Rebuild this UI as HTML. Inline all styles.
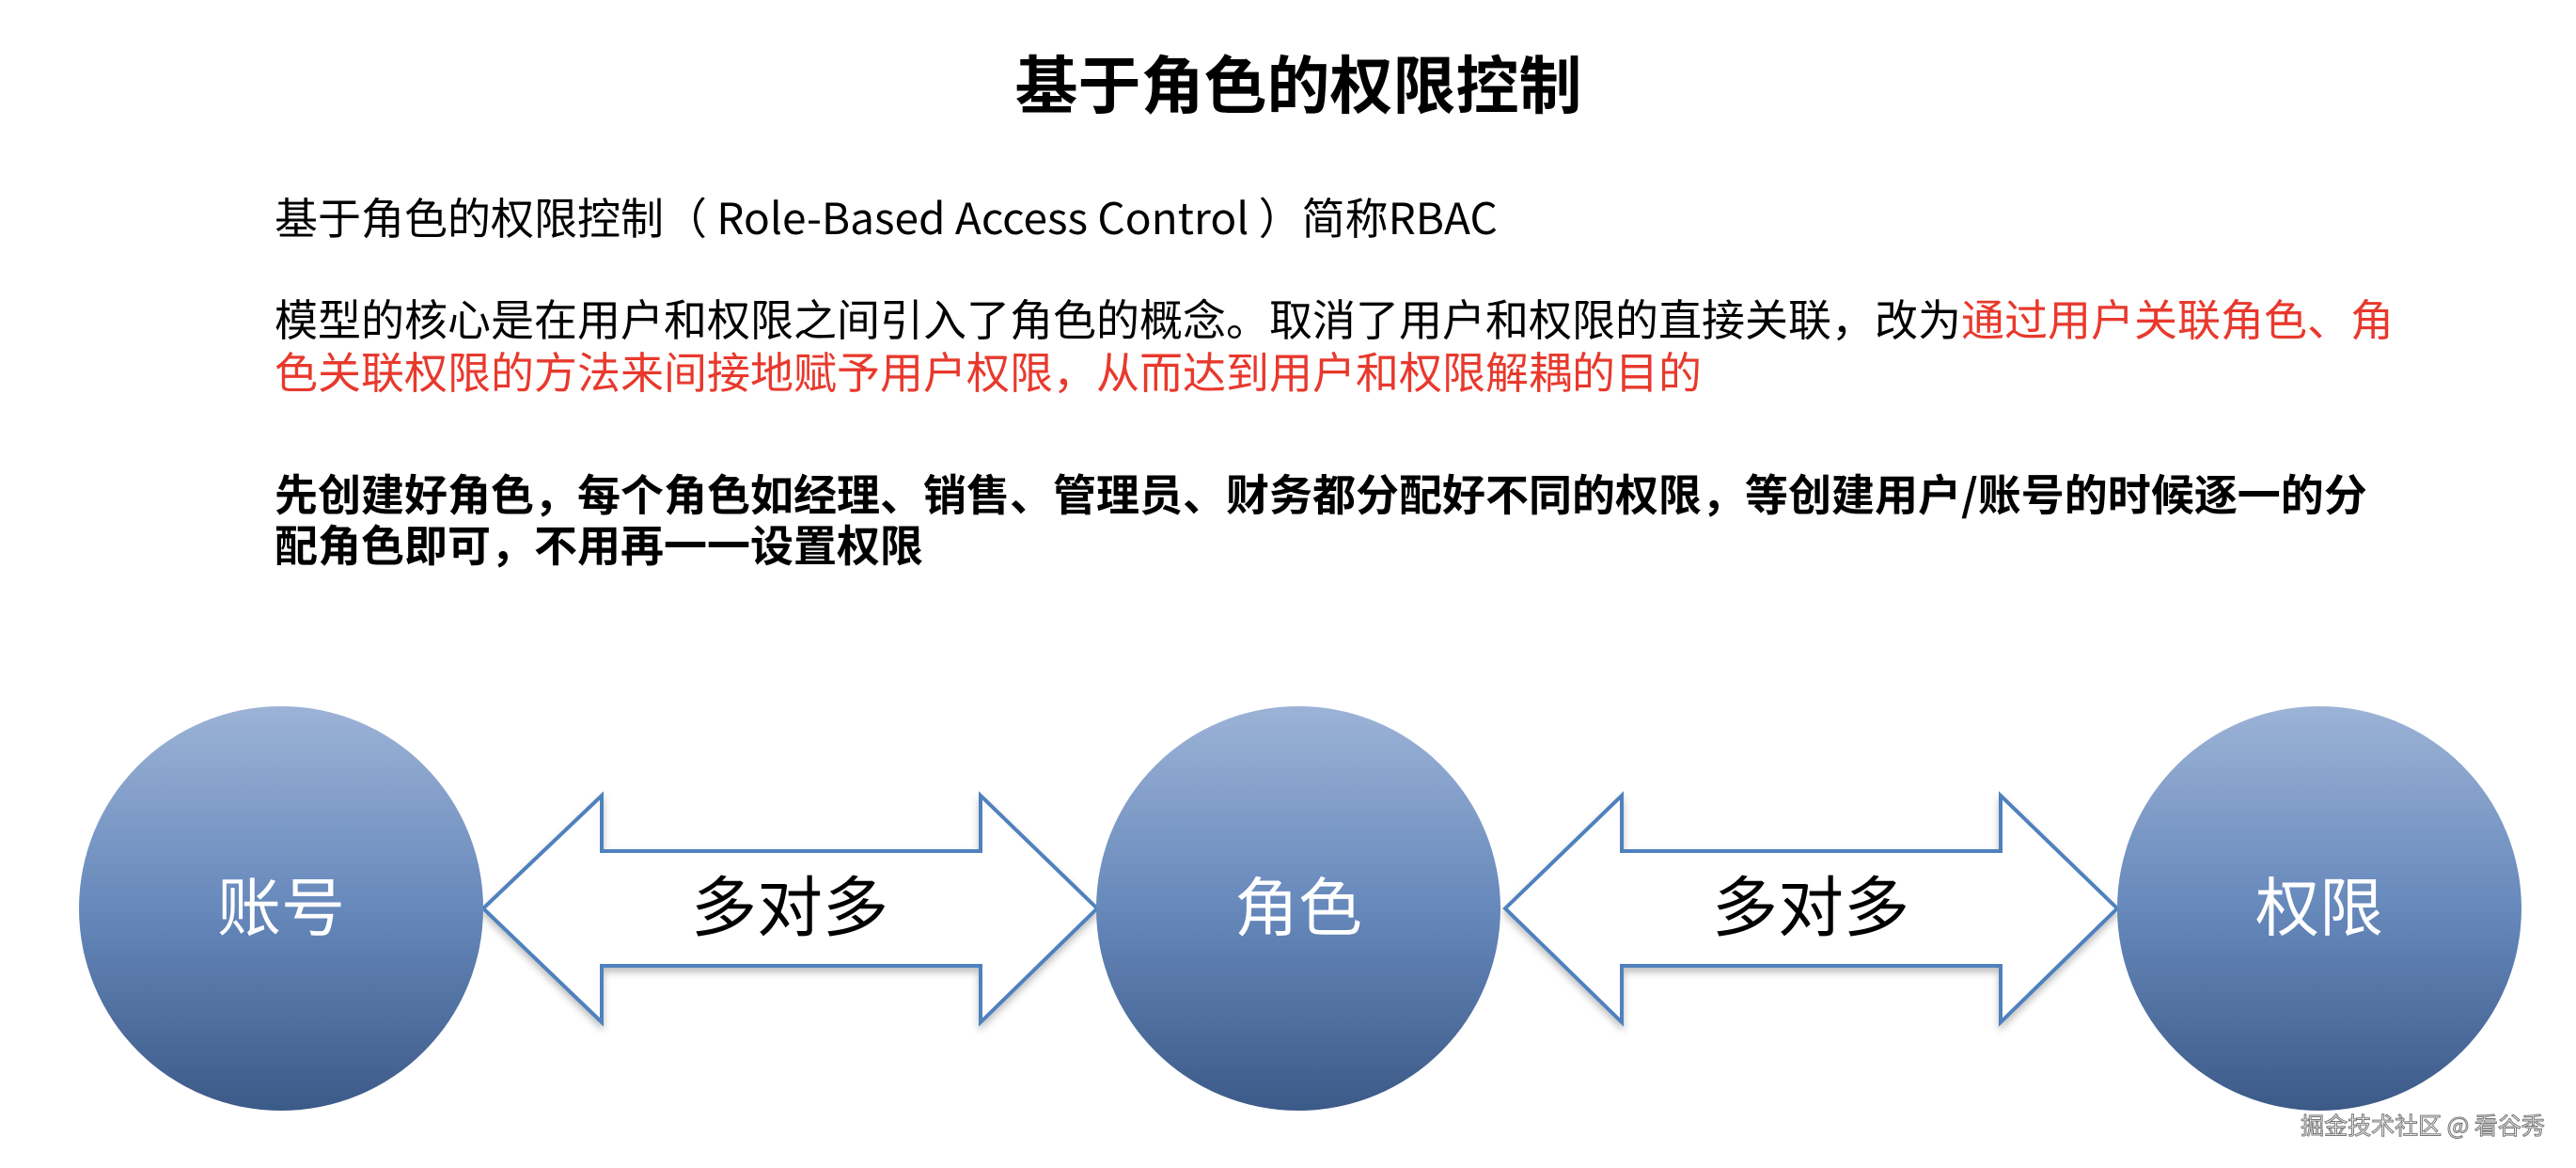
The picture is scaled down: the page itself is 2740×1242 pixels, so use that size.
<!DOCTYPE html>
<html><head><meta charset="utf-8"><style>
html,body{margin:0;padding:0;background:#fff;width:2740px;height:1242px;overflow:hidden;position:relative}
body{font-family:"Noto Sans CJK SC","Liberation Sans",sans-serif;color:#000}
.t{position:absolute;white-space:nowrap}
</style></head><body>
<div class="t" style="left:0;width:2762px;text-align:center;top:42px;font-size:67px;font-weight:bold;line-height:90px">基于角色的权限控制</div>
<div class="t" style="left:292px;top:198px;font-size:46px;line-height:64px">基于角色的权限控制（ Role-Based Access Control ）简称RBAC</div>
<div class="t" style="left:292px;top:310px;font-size:46px;line-height:56px">模型的核心是在用户和权限之间引入了角色的概念。取消了用户和权限的直接关联，改为<span style="color:#e8392d">通过用户关联角色、角</span><br><span style="color:#e8392d">色关联权限的方法来间接地赋予用户权限，从而达到用户和权限解耦的目的</span></div>
<div class="t" style="left:292px;top:497px;font-size:46px;line-height:54px;font-weight:bold">先创建好角色，每个角色如经理、销售、管理员、财务都分配好不同的权限，等创建用户/账号的时候逐一的分<br>配角色即可，不用再一一设置权限</div>
<svg width="2740" height="1242" style="position:absolute;left:0;top:0">
<defs>
<linearGradient id="g" x1="0" y1="0" x2="0" y2="1"><stop offset="0" stop-color="#9cb3d6"/><stop offset="0.5" stop-color="#6688bb"/><stop offset="1" stop-color="#3c5a88"/></linearGradient>
<filter id="s" x="-10%" y="-10%" width="120%" height="130%"><feDropShadow dx="0" dy="5" stdDeviation="4" flood-color="#000" flood-opacity="0.25"/></filter>
</defs>
<g fill="#fff" stroke="#4f81bd" stroke-width="4" filter="url(#s)">
<polygon points="514,966 640,846 640,905 1043,905 1043,846 1167,966 1043,1087 1043,1027 640,1027 640,1087"/>
<polygon points="1601,966 1725,846 1725,905 2128,905 2128,846 2252,966 2128,1087 2128,1027 1725,1027 1725,1087"/>
</g>
<g fill="url(#g)">
<circle cx="299" cy="966" r="215"/>
<circle cx="1381" cy="966" r="215"/>
<circle cx="2467" cy="966" r="215"/>
</g>
<g font-family="Noto Sans CJK SC,Liberation Sans,sans-serif" font-size="68" text-anchor="middle" dominant-baseline="central">
<text x="299" y="960" fill="#fff">账号</text>
<text x="1381" y="960" fill="#fff">角色</text>
<text x="2467" y="960" fill="#fff">权限</text>
<text x="840" y="960" fill="#000" font-size="70">多对多</text>
<text x="1926" y="960" fill="#000" font-size="70">多对多</text>
</g>
<text x="2577" y="1196" font-family="Noto Sans CJK SC,Liberation Sans,sans-serif" font-size="25" text-anchor="middle" dominant-baseline="central" fill="#f4f4f4" stroke="#777" stroke-width="1">掘金技术社区 @ 看谷秀</text>
</svg>
</body></html>
